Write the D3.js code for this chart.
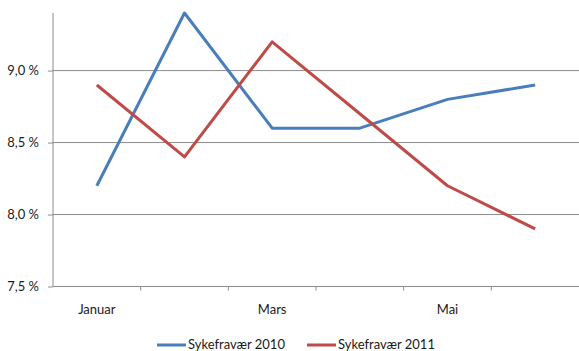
<!DOCTYPE html>
<html>
<head>
<meta charset="utf-8">
<script src="https://cdn.jsdelivr.net/npm/d3@7"></script>
<style>
  html, body { margin: 0; padding: 0; background: #fff; }
  svg { display: block; }
  text { font-family: Lato, "Open Sans", sans-serif; fill: #1a1a1a; }
</style>
</head>
<body>
<svg id="chart" width="579" height="351"></svg>
<script>
// Monthly sickness absence (%) for two years
const months = ["Januar", "Februar", "Mars", "April", "Mai", "Juni"];
const shownMonthLabels = ["Januar", "Mars", "Mai"];
const sick2010 = [8.2, 9.4, 8.6, 8.6, 8.8, 8.9];
const sick2011 = [8.9, 8.4, 9.2, 8.7, 8.2, 7.9];
const seriesNames = ["Sykefravær 2010", "Sykefravær 2011"];
const seriesColors = ["#4A7EBB", "#BE4B48"];
const yTicks = [7.5, 8.0, 8.5, 9.0];

const svg = d3.select("#chart");
const plotLeft = 53, plotRight = 579, plotTop = 13, plotBottom = 286.5;

const x = d3.scaleBand().domain(months).range([plotLeft, plotRight]);
const y = d3.scaleLinear().domain([7.5, 9.4]).range([plotBottom, plotTop]);

const fmt = v => d3.format(".1f")(v).replace(".", ",") + " %";

// horizontal gridlines
svg.append("g").selectAll("line").data(yTicks.filter(t => t > 7.5)).join("line")
  .attr("x1", plotLeft).attr("x2", plotRight)
  .attr("y1", d => y(d)).attr("y2", d => y(d))
  .attr("stroke", "#8c8c8c").attr("stroke-width", 1);

// y axis
const yAxis = svg.append("g").attr("transform", `translate(${plotLeft},0)`)
  .call(d3.axisLeft(y).tickValues(yTicks).tickSize(5).tickPadding(9).tickFormat(fmt));
yAxis.select(".domain").attr("stroke", "#8c8c8c").attr("d", `M0,${plotTop}V${plotBottom}`);
yAxis.selectAll(".tick line").attr("stroke", "#8c8c8c");
yAxis.selectAll(".tick text").attr("font-size", 13).attr("font-family", "Lato, sans-serif").attr("fill", "#1a1a1a");

// x axis with ticks between categories
const xAxisG = svg.append("g").attr("transform", `translate(0,${plotBottom})`);
xAxisG.append("line").attr("x1", plotLeft).attr("x2", plotRight)
  .attr("stroke", "#8c8c8c").attr("stroke-width", 1);
xAxisG.selectAll("line.tk").data(months.slice(1)).join("line").attr("class", "tk")
  .attr("x1", d => x(d)).attr("x2", d => x(d))
  .attr("y1", 0).attr("y2", 4).attr("stroke", "#8c8c8c");
xAxisG.selectAll("text").data(shownMonthLabels).join("text")
  .attr("x", d => x(d) + x.bandwidth() / 2).attr("y", 27)
  .attr("text-anchor", "middle").attr("font-size", 13).text(d => d);

// series lines
const line = d3.line().x((d, i) => x(months[i]) + x.bandwidth() / 2).y(d => y(d));
[sick2010, sick2011].forEach((s, k) => {
  svg.append("path").datum(s).attr("d", line)
    .attr("fill", "none").attr("stroke", seriesColors[k])
    .attr("stroke-width", 3).attr("stroke-linejoin", "round");
});

// legend
const legendItems = [{x: 157}, {x: 307}];
legendItems.forEach((p, k) => {
  const g = svg.append("g").attr("transform", `translate(${p.x},345)`);
  g.append("line").attr("x1", 0).attr("x2", 29).attr("stroke", seriesColors[k]).attr("stroke-width", 3);
  g.append("text").attr("x", 31).attr("y", 4).attr("font-size", 13).text(seriesNames[k]);
});
</script>
</body>
</html>
